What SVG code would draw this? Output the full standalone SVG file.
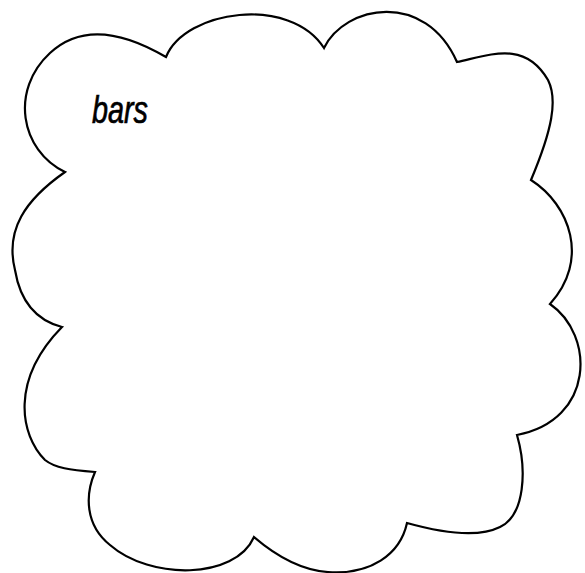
<svg xmlns="http://www.w3.org/2000/svg" width="585" height="573" viewBox="0 0 585 573">
<style>
.cloud{fill:#ffffff;stroke:#000000;stroke-width:2.2;stroke-linejoin:miter}
.lbl{font-family:"Liberation Sans","DejaVu Sans",sans-serif;font-style:italic;font-size:34px;fill:#000000;stroke:#000000;stroke-width:0.6}
</style>
<rect width="585" height="573" fill="#ffffff"/>
<g id="node-bars">
<path class="cloud" d="M166,57 C185,10 290,-5 324,48 C345,5 425,-10 457,62 C490,55 525,40 548,80 C558,100 552,130 531,180 C570,205 590,260 550,304 C595,335 595,420 517,435 C527,470 525,515 500,527 C480,537 450,535 407,523 C400,555 370,575 328,572 C300,570 275,555 254,537 C235,580 150,580 110,545 C85,525 85,495 95,472 C70,470 55,468 45,460 C20,435 10,380 62,327 C35,320 20,300 15,270 C5,230 25,200 65,172 C20,150 10,90 50,53 C80,25 120,30 166,57 Z"/>
<text class="lbl" transform="translate(92,123) scale(1,1.15)" x="0" y="0" textLength="56" lengthAdjust="spacingAndGlyphs">bars</text>
</g>
</svg>
